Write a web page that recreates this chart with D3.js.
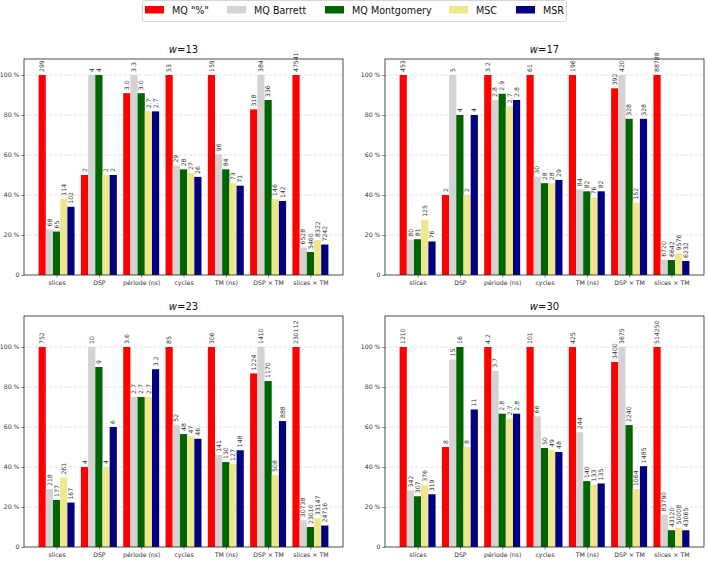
<!DOCTYPE html>
<html>
<head>
<meta charset="utf-8">
<script src="https://cdn.jsdelivr.net/npm/d3@7"></script>
<style>
  body { margin: 0; background: #fff; }
  svg { font-family: "DejaVu Sans", sans-serif; }
</style>
</head>
<body>
<div id="chart"></div>
<script>
'use strict';

// categories and series
const categories = ["slices", "DSP", "période (ns)", "cycles", "TM (ns)", "DSP × TM", "slices × TM"];
const seriesNames = ['MQ "%"', "MQ Barrett", "MQ Montgomery", "MSC", "MSR"];
const seriesColors = ["#ff0000", "#d3d3d3", "#006400", "#f0e68c", "#000080"];
const yTicks = [0, 20, 40, 60, 80, 100];

// raw values, one row per series (same order as seriesNames)
const w13 = [
  [299, 2, 3.0, 53, 159, 318, 47541],
  [68, 4, 3.3, 29, 96, 384, 6528],
  [65, 4, 3.0, 28, 84, 336, 5460],
  [114, 2, 2.7, 27, 73, 146, 8322],
  [102, 2, 2.7, 26, 71, 142, 7242]
];
const w17 = [
  [453, 2, 3.2, 61, 196, 392, 88788],
  [80, 5, 2.8, 30, 84, 420, 6720],
  [81, 4, 2.9, 28, 82, 328, 6642],
  [125, 2, 2.7, 28, 76, 152, 9576],
  [76, 4, 2.8, 29, 82, 328, 6232]
];
const w23 = [
  [752, 4, 3.6, 85, 306, 1224, 230112],
  [218, 10, 2.7, 52, 141, 1410, 30738],
  [177, 9, 2.7, 48, 130, 1170, 23010],
  [261, 4, 2.7, 47, 127, 508, 33147],
  [167, 6, 3.2, 46, 148, 888, 24716]
];
const w30 = [
  [1210, 8, 4.2, 101, 425, 3400, 514250],
  [342, 15, 3.7, 66, 244, 3675, 83790],
  [307, 16, 2.8, 50, 140, 2240, 43120],
  [376, 8, 2.7, 49, 133, 1064, 50008],
  [319, 11, 2.8, 48, 135, 1485, 43065]
];

// layout
const panels = [
  {w: "13", data: w13, x0: 24, x1: 343, top: 59, bottom: 275},
  {w: "17", data: w17, x0: 385, x1: 704, top: 59, bottom: 275},
  {w: "23", data: w23, x0: 24, x1: 343, top: 316, bottom: 547},
  {w: "30", data: w30, x0: 385, x1: 704, top: 316, bottom: 547}
];

const barW = 0.17;

const svg = d3.select("#chart").append("svg")
  .attr("width", 708)
  .attr("height", 565);

function fmt(v, ci) {
  return ci === 2 ? v.toFixed(1) : String(v);
}

panels.forEach(p => {
  const g = svg.append("g");

  const x = d3.scaleLinear()
    .domain([-0.77, categories.length - 1 + 0.77])
    .range([p.x0, p.x1]);
  // 100 % sits 200 px above the axis
  const y = d3.scaleLinear()
    .domain([0, (p.bottom - p.top) / 2])
    .range([p.bottom, p.top]);

  // grid
  g.selectAll(".grid")
    .data(yTicks.filter(t => t > 0))
    .enter().append("line")
      .attr("x1", p.x0).attr("x2", p.x1)
      .attr("y1", d => y(d)).attr("y2", d => y(d))
      .attr("stroke", "#dcdcdc")
      .attr("stroke-width", 0.8)
      .attr("stroke-dasharray", "3,2");

  // normalise each category by its max
  const maxes = categories.map((c, ci) => d3.max(p.data, row => row[ci]));
  const bars = [];
  p.data.forEach((row, si) => {
    row.forEach((v, ci) => {
      bars.push({si: si, ci: ci, v: v, pct: v / maxes[ci] * 100});
    });
  });

  g.selectAll("rect.bar")
    .data(bars)
    .enter().append("rect")
      .attr("class", "bar")
      .attr("x", d => x(d.ci + (d.si - 2.5) * barW))
      .attr("y", d => y(d.pct))
      .attr("width", x(barW) - x(0))
      .attr("height", d => y(0) - y(d.pct))
      .attr("fill", d => seriesColors[d.si]);

  g.selectAll("text.val")
    .data(bars)
    .enter().append("text")
      .attr("class", "val")
      .attr("transform", d => "translate(" + (x(d.ci + (d.si - 2) * barW)) + "," + (y(d.pct) - 3) + ") rotate(-90)")
      .attr("dy", "0.35em")
      .attr("font-size", 6.2)
      .attr("fill", "#333")
      .text(d => fmt(d.v, d.ci));

  // axes
  const yAxis = g.append("g")
    .attr("transform", "translate(" + p.x0 + ",0)")
    .call(d3.axisLeft(y).tickValues(yTicks).tickSize(2.5).tickPadding(2)
      .tickFormat(d => d === 0 ? "0" : d + " %"));
  const xAxis = g.append("g")
    .attr("transform", "translate(0," + p.bottom + ")")
    .call(d3.axisBottom(x).tickValues(d3.range(categories.length)).tickSize(2.5).tickPadding(3)
      .tickFormat(i => categories[i]));
  [yAxis, xAxis].forEach(a => {
    a.attr("font-family", null);
    a.select(".domain").remove();
    a.selectAll("text").attr("font-size", 6.2).attr("fill", "#333");
    a.selectAll("line").attr("stroke", "#222").attr("stroke-width", 0.6);
  });

  // frame
  g.append("rect")
    .attr("x", p.x0).attr("y", p.top)
    .attr("width", p.x1 - p.x0).attr("height", p.bottom - p.top)
    .attr("fill", "none")
    .attr("stroke", "#222")
    .attr("stroke-width", 0.8);

  // title
  const t = g.append("text")
    .attr("x", (p.x0 + p.x1) / 2)
    .attr("y", p.top - 6)
    .attr("text-anchor", "middle")
    .attr("font-size", 10)
    .attr("fill", "#111");
  t.append("tspan").attr("font-style", "italic").text("w");
  t.append("tspan").text("=" + p.w);
});

// legend
const legend = svg.append("g");
legend.append("rect")
  .attr("x", 142.5).attr("y", 0.5)
  .attr("width", 424).attr("height", 21)
  .attr("rx", 2)
  .attr("fill", "#fff")
  .attr("stroke", "#ccc")
  .attr("stroke-width", 0.8);
const legendX = [145, 227, 325, 449, 516];
seriesNames.forEach((name, i) => {
  legend.append("rect")
    .attr("x", legendX[i]).attr("y", 6)
    .attr("width", 19).attr("height", 7.5)
    .attr("fill", seriesColors[i]);
  legend.append("text")
    .attr("x", legendX[i] + 27).attr("y", 14.2)
    .attr("font-size", 9.6)
    .attr("fill", "#111")
    .text(name);
});
</script>
</body>
</html>
